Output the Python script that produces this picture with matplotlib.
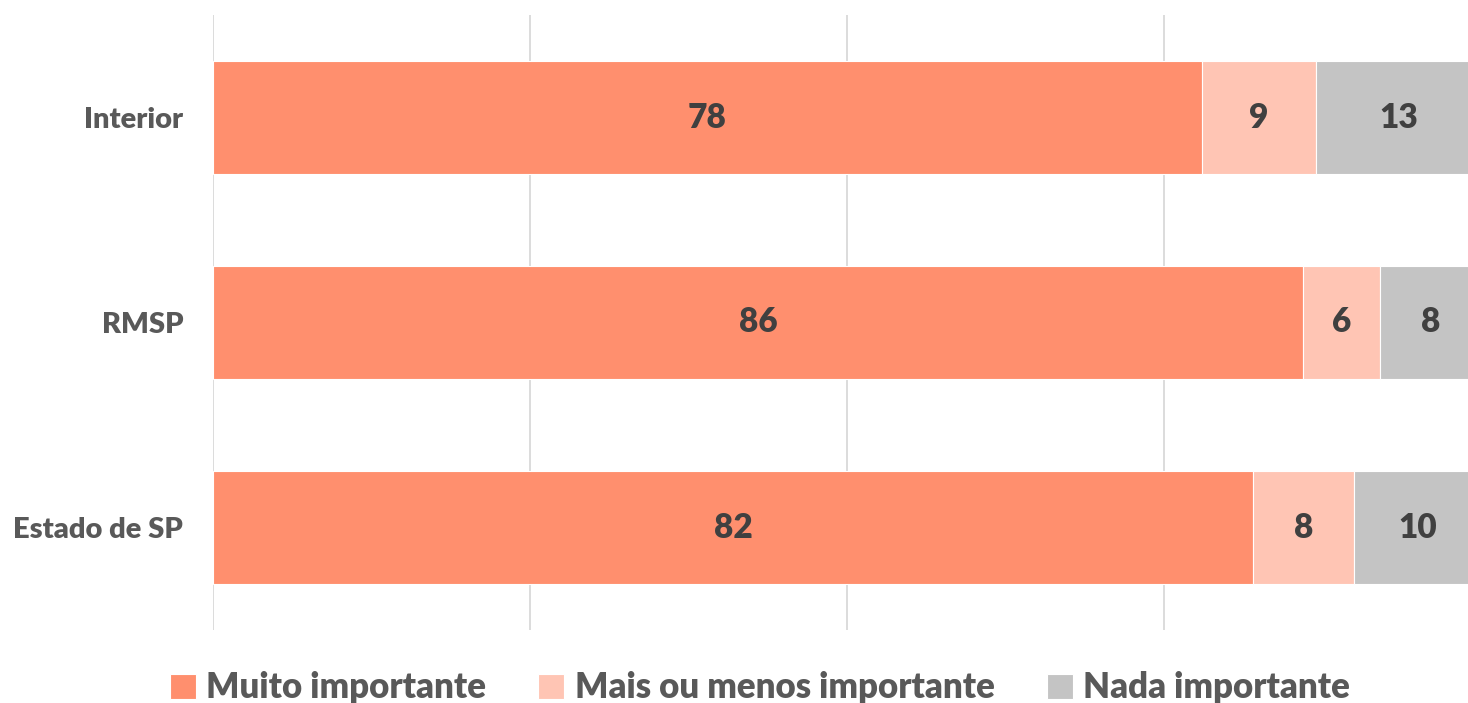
import matplotlib
matplotlib.use("Agg")
import matplotlib.pyplot as plt
import numpy as np

plt.rcParams['font.family'] = ['Lato', 'DejaVu Sans']

categories = ["Estado de SP", "RMSP", "Interior"]
muito = [82, 86, 78]
mais_ou_menos = [8, 6, 9]
nada = [10, 8, 13]
series_names = ["Muito importante", "Mais ou menos importante", "Nada importante"]
colors = ["#FF8F6E", "#FFC5B4", "#C4C4C4"]

W, H = 1468, 703
fig = plt.figure(figsize=(W / 100, H / 100), dpi=100)
ax = fig.add_axes([213 / W, 1 - 630 / H, 1268 / W, 615 / H])

y = np.arange(len(categories))
left = np.zeros(len(categories))
for vals, name, col in zip([muito, mais_ou_menos, nada], series_names, colors):
    ax.barh(y, vals, left=left, height=0.555, color=col, label=name,
            edgecolor="#FFFFFF", linewidth=0.8, zorder=2)
    for yi, l, v in zip(y, left, vals):
        ax.text(l + v / 2, yi, f"{v}", ha="center", va="center",
                fontsize=24, fontweight="heavy", color="#404040", zorder=3)
    left = left + np.array(vals)

ax.set_xlim(0, 100)
ax.set_ylim(-0.5, 2.5)
ax.set_xticks([0, 25, 50, 75, 100])
ax.set_xticklabels([])
ax.tick_params(axis="x", length=0)
ax.grid(axis="x", color="#D9D9D9", linewidth=1.3, zorder=0)
ax.set_yticks(y)
ax.set_yticklabels(categories, fontsize=21, fontweight="heavy", color="#595959")
ax.tick_params(axis="y", length=0, pad=21.5)
for s in ax.spines.values():
    s.set_visible(False)

handles, labels = ax.get_legend_handles_labels()
leg = fig.legend(handles, labels, loc="center", bbox_to_anchor=(760 / W, 1 - 688 / H),
                 ncol=3, frameon=False, fontsize=25, handlelength=0.75, handleheight=0.75,
                 handletextpad=0.3, columnspacing=1.5)
for t in leg.get_texts():
    t.set_color("#595959")
    t.set_fontweight("heavy")

fig.savefig("out.png", dpi=100)
